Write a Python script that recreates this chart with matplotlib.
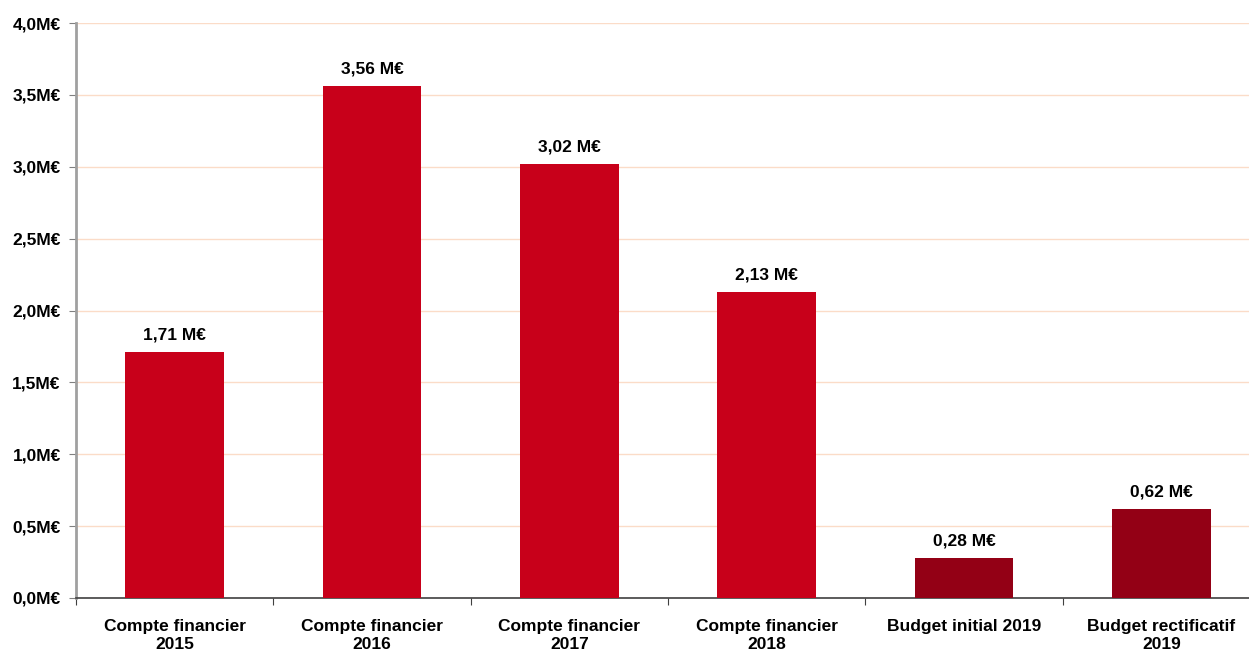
import matplotlib.pyplot as plt
from matplotlib.ticker import FuncFormatter

categories = ['Compte financier\n2015', 'Compte financier\n2016', 'Compte financier\n2017',
              'Compte financier\n2018', 'Budget initial 2019', 'Budget rectificatif\n2019']
values = [1.71, 3.56, 3.02, 2.13, 0.28, 0.62]
colors = ['#C8001A'] * 4 + ['#930015'] * 2

plt.rcParams['font.family'] = ['Liberation Sans', 'DejaVu Sans']

fig = plt.figure(figsize=(12.49, 6.5), dpi=100)
ax = fig.add_axes([76 / 1249, 52 / 650, 1184 / 1249, 575 / 650])

x = range(len(values))
ax.bar(x, values, width=0.5, color=colors, zorder=3)
for i, v in enumerate(values):
    ax.text(i, v + 0.065, f'{v:.2f} M€'.replace('.', ','), ha='center', va='bottom',
            fontsize=12.5, fontweight='bold')

ax.set_xlim(-0.5, 5.5)
ax.set_ylim(0, 4.0)
ax.set_yticks([i * 0.5 for i in range(9)])
ax.yaxis.set_major_formatter(FuncFormatter(lambda v, p: f'{v:.1f}M€'.replace('.', ',')))
ax.grid(axis='y', color='#FBDCC8', linewidth=1, zorder=0)

ax.set_xticks([i + 0.5 for i in range(-1, 6)], minor=False)
ax.set_xticklabels([])
ax.set_xticks(list(x), minor=True)
ax.set_xticklabels(categories, minor=True, fontsize=12.5, fontweight='bold', linespacing=1.3)
ax.tick_params(axis='x', which='minor', length=0, pad=15)
ax.tick_params(axis='x', which='major', length=5, color='#404040')
ax.tick_params(axis='y', length=5, color='#808080', labelsize=12.5, pad=6)
for lbl in ax.get_yticklabels():
    lbl.set_fontweight('bold')

for s in ['top', 'right']:
    ax.spines[s].set_visible(False)
ax.spines['left'].set_color('#A0A0A0')
ax.spines['left'].set_linewidth(2)
ax.spines['bottom'].set_color('#404040')
ax.spines['bottom'].set_linewidth(1.2)

fig.savefig('out.png', dpi=100)
